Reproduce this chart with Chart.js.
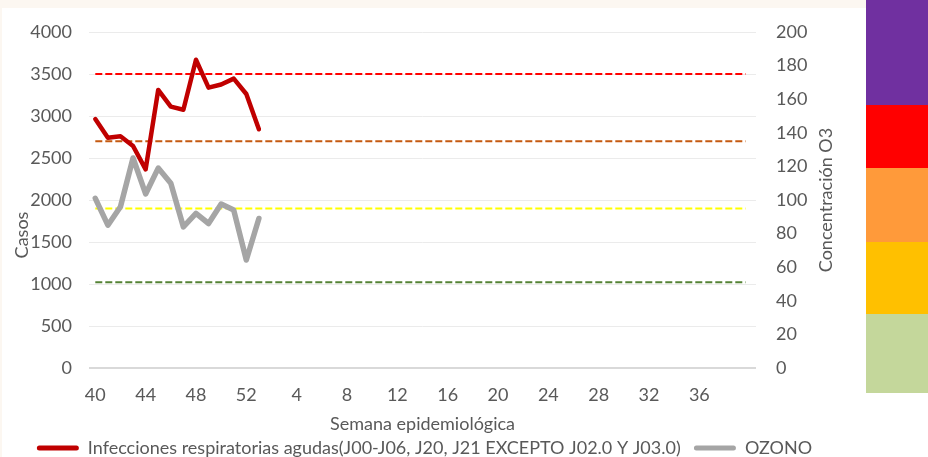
<!DOCTYPE html>
<html>
<head>
<meta charset="utf-8">
<script src="https://cdn.jsdelivr.net/npm/chart.js@4.4.1/dist/chart.umd.min.js"></script>
<style>
  html, body { margin: 0; padding: 0; width: 928px; height: 457px; overflow: hidden; background: #ffffff; font-family: Lato, sans-serif; }
  #topstrip { position: absolute; left: 0; top: 0; width: 866px; height: 8px; background: #FCF7F1; }
  #leftstrip { position: absolute; left: 0; top: 0; width: 2px; height: 457px; background: #FCF7F1; }
  #wrap { position: absolute; left: 0; top: 0; width: 849px; height: 467px; }
  .band { position: absolute; left: 866px; width: 62px; }
</style>
</head>
<body>
<div id="topstrip"></div>
<div id="leftstrip"></div>
<div id="wrap"><canvas id="c" width="849" height="467"></canvas></div>
<div class="band" style="top:0;height:105px;background:#7030A0"></div>
<div class="band" style="top:105px;height:63px;background:#FF0000"></div>
<div class="band" style="top:168px;height:74px;background:#FF9A3A"></div>
<div class="band" style="top:242px;height:72px;background:#FFC000"></div>
<div class="band" style="top:314px;height:79px;background:#C4D79B"></div>
<script>
// Weeks (category / tick labels)
const weeks = [40,41,42,43,44,45,46,47,48,49,50,51,52,1,2,3,4,5,6,7,8,9,10,11,12,13,14,15,16,17,18,19,20,21,22,23,24,25,26,27,28,29,30,31,32,33,34,35,36,37,38,39,40];
// Infecciones respiratorias agudas (left axis, casos)
const casos = [2964, 2742, 2758, 2643, 2365, 3310, 3111, 3075, 3670, 3338, 3375, 3445, 3262, 2842];
// Ozono (right axis, concentración O3)
const ozono = [101, 85, 96, 125, 103.6, 119, 110, 84, 92, 86, 97.6, 94, 64.3, 89];
// Ozone thresholds (right axis) and their colours
const umbrales = [175, 135, 95, 51];
const umbralColores = ['#FF0000', '#C55A11', '#FFFF00', '#548235'];
const leftTicks = [0, 500, 1000, 1500, 2000, 2500, 3000, 3500, 4000];
const rightTicks = [0, 20, 40, 60, 80, 100, 120, 140, 160, 180, 200];

const FONT = 'Lato';
const FS = 18;
const TXT = '#595959';

const thresholdPlugin = {
  id: 'umbrales',
  beforeDatasetsDraw(chart) {
    const { ctx } = chart;
    const x = chart.scales.x, y1 = chart.scales.y1;
    const x0 = x.getPixelForValue(0);
    const x1 = x.getPixelForValue(weeks.length - 1) - 4;
    ctx.save();
    ctx.lineWidth = 2;
    ctx.setLineDash([7, 3]);
    umbrales.forEach((v, i) => {
      const yy = y1.getPixelForValue(v);
      ctx.strokeStyle = umbralColores[i];
      ctx.beginPath();
      ctx.moveTo(x0, yy);
      ctx.lineTo(x1, yy);
      ctx.stroke();
    });
    ctx.restore();
  }
};

const axisTitlePlugin = {
  id: 'axisTitles',
  afterDraw(chart) {
    const { ctx } = chart;
    ctx.save();
    ctx.fillStyle = TXT;
    ctx.font = FS + 'px ' + FONT;
    ctx.textAlign = 'center';
    ctx.textBaseline = 'middle';
    ctx.translate(22, 235);
    ctx.rotate(-Math.PI / 2);
    ctx.fillText('Casos', 0, 0);
    ctx.restore();
    ctx.save();
    ctx.fillStyle = TXT;
    ctx.font = FS + 'px ' + FONT;
    ctx.textAlign = 'center';
    ctx.textBaseline = 'middle';
    ctx.translate(826, (chart.chartArea.top + chart.chartArea.bottom) / 2);
    ctx.rotate(-Math.PI / 2);
    ctx.fillText('Concentración O3', 0, 0);
    ctx.restore();
  }
};

new Chart(document.getElementById('c'), {
  type: 'line',
  data: {
    labels: weeks,
    datasets: [
      {
        label: 'Infecciones respiratorias agudas(J00-J06, J20, J21 EXCEPTO J02.0 Y J03.0)',
        data: casos,
        yAxisID: 'y',
        borderColor: '#C00000',
        backgroundColor: '#C00000',
        borderWidth: 4.5,
        pointRadius: 0,
        tension: 0,
        borderJoinStyle: 'round',
        borderCapStyle: 'round'
      },
      {
        label: 'OZONO',
        data: ozono,
        yAxisID: 'y1',
        borderColor: '#A5A5A5',
        backgroundColor: '#A5A5A5',
        borderWidth: 5.5,
        pointRadius: 0,
        tension: 0,
        borderJoinStyle: 'round',
        borderCapStyle: 'round'
      }
    ]
  },
  options: {
    responsive: false,
    animation: false,
    devicePixelRatio: 1,
    layout: { padding: { top: 32, left: 0, right: 0, bottom: 0 } },
    plugins: {
      tooltip: { enabled: false },
      legend: {
        position: 'bottom',
        labels: {
          font: { family: FONT, size: FS },
          color: TXT,
          boxWidth: 42,
          boxHeight: 5,
          padding: 4,
          generateLabels(chart) {
            return Chart.defaults.plugins.legend.labels.generateLabels(chart).map((l, i) => ({
              ...l,
              text: i === 0 ? l.text + '  ' : l.text,
              lineWidth: 0, fillStyle: l.strokeStyle, borderRadius: 2.5
            }));
          }
        }
      }
    },
    scales: {
      x: {
        type: 'category',
        offset: true,
        afterFit(scale) { scale.height = 67; },
        grid: { display: false, drawTicks: false },
        border: { display: false },
        ticks: {
          autoSkip: false,
          maxRotation: 0,
          minRotation: 0,
          padding: 16,
          color: TXT,
          font: { family: FONT, size: FS },
          callback(val, idx) { return (idx % 4 === 0 && idx < weeks.length - 1) ? String(weeks[idx]) : ''; }
        },
        title: {
          display: true,
          text: 'Semana epidemiológica',
          color: TXT,
          font: { family: FONT, size: FS },
          padding: { top: 4, bottom: 0 }
        }
      },
      y: {
        position: 'left',
        min: 0, max: 4000,
        afterBuildTicks(scale) { scale.ticks = leftTicks.map(v => ({ value: v })); },
        afterFit(scale) { scale.width = 89; },
        grid: {
          drawTicks: false,
          color: ctx => ctx.tick && ctx.tick.value === 0 ? '#D9D9D9' : '#EBEBEB',
          lineWidth: ctx => ctx.tick && ctx.tick.value === 0 ? 2 : 1
        },
        border: { display: false },
        ticks: { padding: 17, color: TXT, font: { family: FONT, size: FS }, callback: v => String(v) }
      },
      y1: {
        position: 'right',
        min: 0, max: 200,
        afterBuildTicks(scale) { scale.ticks = rightTicks.map(v => ({ value: v })); },
        afterFit(scale) { scale.width = 93; },
        grid: { display: false, drawTicks: false },
        border: { display: false },
        ticks: { padding: 20, color: TXT, font: { family: FONT, size: FS }, callback: v => String(v) }
      }
    }
  },
  plugins: [thresholdPlugin, axisTitlePlugin]
});
</script>
</body>
</html>
